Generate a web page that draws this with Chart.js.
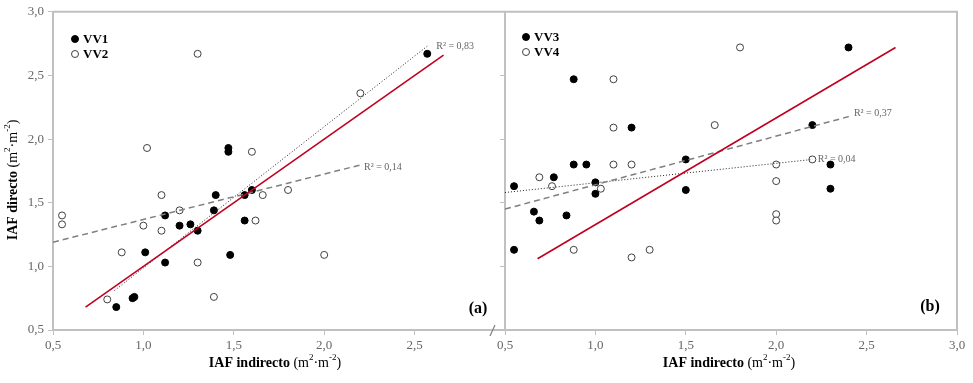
<!DOCTYPE html>
<html>
<head>
<meta charset="utf-8">
<script src="https://cdn.jsdelivr.net/npm/chart.js@4.4.0/dist/chart.umd.min.js"></script>
<style>
  body { margin: 0; background: #fff; }
  #wrap { position: relative; width: 973px; height: 383px; }
  .panel { position: absolute; top: 0; height: 383px; }
  #pa { left: 0; width: 520px; }
  #pb { left: 490px; width: 483px; }
</style>
</head>
<body>
<div id="wrap">
  <div class="panel" id="pa"><canvas id="chartA"></canvas></div>
  <div class="panel" id="pb"><canvas id="chartB"></canvas></div>
</div>
<script>
// Panel (a) values [IAF indirecto, IAF directo]
const vv1 = [[0.85,0.68],[0.94,0.75],[0.95,0.76],[1.01,1.11],[1.12,1.03],[1.12,1.40],[1.20,1.32],[1.26,1.33],
  [1.30,1.28],[1.39,1.44],[1.40,1.56],[1.47,1.90],[1.47,1.93],[1.48,1.09],[1.56,1.36],[1.56,1.56],[1.60,1.60],[2.57,2.67]];
const vv2 = [[0.55,1.40],[0.55,1.33],[0.80,0.74],[0.88,1.11],[1.00,1.32],[1.02,1.93],[1.10,1.28],[1.10,1.56],
  [1.20,1.44],[1.30,1.03],[1.30,2.67],[1.39,0.76],[1.60,1.90],[1.62,1.36],[1.66,1.56],[1.80,1.60],[2.00,1.09],[2.20,2.36]];
// Panel (b)
const vv3 = [[0.55,1.63],[0.55,1.13],[0.66,1.43],[0.69,1.36],[0.77,1.70],[0.84,1.40],[0.88,2.47],[0.88,1.80],
  [0.95,1.80],[1.00,1.66],[1.00,1.57],[1.20,2.09],[1.50,1.84],[1.50,1.60],[2.20,2.11],[2.30,1.80],[2.30,1.61],[2.40,2.72]];
const vv4 = [[0.69,1.70],[0.76,1.63],[0.88,1.13],[1.03,1.61],[1.10,2.47],[1.10,2.09],[1.10,1.80],[1.20,1.80],
  [1.20,1.07],[1.30,1.13],[1.66,2.11],[1.80,2.72],[2.00,1.80],[2.00,1.67],[2.00,1.41],[2.00,1.36],[2.20,1.84]];

// line end points
const refLineA = [[0.68,0.68],[2.66,2.66]];
const trendVV1 = [[0.84,0.81],[2.57,2.73]];
const trendVV2 = [[0.50,1.19],[2.21,1.80]];
const refLineB = [[0.68,1.06],[2.66,2.72]];
const trendVV3 = [[0.50,1.45],[2.41,2.18]];
const trendVV4 = [[0.50,1.58],[2.20,1.84]];

const xTicks = [0.5, 1.0, 1.5, 2.0, 2.5, 3.0];
const yTicks = [0.5, 1.0, 1.5, 2.0, 2.5, 3.0];
const r2A = ['R² = 0,83', 'R² = 0,14'];
const r2B = ['R² = 0,37', 'R² = 0,04'];

const SERIF = "'Liberation Serif', 'Times New Roman', serif";
const AXIS = '#c0c0c0';
const TXT = '#666666';

const pts = arr => arr.map(p => ({ x: p[0], y: p[1] }));
const fmt = v => v.toFixed(1).replace('.', ',');

function filledSet(d) {
  return { data: pts(d), pointRadius: 3.5, backgroundColor: '#000', borderColor: '#000', borderWidth: 1, order: 2 };
}
function openSet(d) {
  return { data: pts(d), pointRadius: 3.5, backgroundColor: '#fff', borderColor: '#404040', borderWidth: 1, order: 2 };
}
function lineSet(d, color, width, dash) {
  return { data: pts(d), showLine: true, pointRadius: 0, borderColor: color, borderWidth: width, borderDash: dash, fill: false, order: 1 };
}

// draws a sequence of text pieces with mixed fonts (bold / superscript)
function drawRuns(ctx, runs, cx, cy) {
  let total = 0;
  runs.forEach(r => {
    ctx.font = (r.bold ? 'bold ' : '') + r.size + 'px ' + SERIF;
    r.w = ctx.measureText(r.t).width;
    total += r.w;
  });
  let x = cx - total / 2;
  ctx.textAlign = 'left';
  ctx.textBaseline = 'middle';
  runs.forEach(r => {
    ctx.font = (r.bold ? 'bold ' : '') + r.size + 'px ' + SERIF;
    ctx.fillText(r.t, x, cy + (r.dy || 0));
    x += r.w;
  });
}
function titleRuns(label) {
  const s = 14, ss = 9;
  return [
    { t: label + ' ', bold: true, size: s },
    { t: '(m', size: s }, { t: '2', size: ss, dy: -5 },
    { t: '·m', size: s }, { t: '-2', size: ss, dy: -5 },
    { t: ')', size: s }
  ];
}
function legend(ctx, x, y, name, filled) {
  ctx.beginPath();
  ctx.arc(x, y, 3.5, 0, Math.PI * 2);
  ctx.fillStyle = filled ? '#000' : '#fff';
  ctx.fill();
  ctx.strokeStyle = filled ? '#000' : '#404040';
  ctx.lineWidth = 1;
  ctx.stroke();
  ctx.fillStyle = '#000';
  ctx.font = 'bold 13px ' + SERIF;
  ctx.textAlign = 'left';
  ctx.textBaseline = 'middle';
  ctx.fillText(name, x + 8, y + 1);
}
function r2Label(ctx, sx, sy, x, y, text) {
  ctx.fillStyle = TXT;
  ctx.font = '10px ' + SERIF;
  ctx.textAlign = 'left';
  ctx.textBaseline = 'middle';
  ctx.fillText(text, sx.getPixelForValue(x), sy.getPixelForValue(y));
}

const decorA = {
  id: 'decorA',
  afterDraw(chart) {
    const { ctx, chartArea: a, scales } = chart;
    ctx.save();
    ctx.strokeStyle = AXIS; ctx.lineWidth = 2;
    ctx.beginPath(); ctx.moveTo(a.left, a.top); ctx.lineTo(a.right, a.top); ctx.stroke();
    // axis break mark
    ctx.strokeStyle = '#808080'; ctx.lineWidth = 1.2;
    ctx.beginPath(); ctx.moveTo(a.right - 15, a.bottom + 6); ctx.lineTo(a.right - 10, a.bottom - 5); ctx.stroke();
    ctx.fillStyle = '#000';
    ctx.save();
    ctx.translate(13, 180); ctx.rotate(-Math.PI / 2);
    drawRuns(ctx, titleRuns('IAF directo'), 0, 0);
    ctx.restore();
    drawRuns(ctx, titleRuns('IAF indirecto'), 275, 363);
    legend(ctx, 75, 39, 'VV1', true);
    legend(ctx, 75, 54, 'VV2', false);
    r2Label(ctx, scales.x, scales.y, 2.62, 2.73, r2A[0]);
    r2Label(ctx, scales.x, scales.y, 2.22, 1.78, r2A[1]);
    ctx.fillStyle = '#000';
    ctx.font = 'bold 16px ' + SERIF;
    ctx.textAlign = 'center'; ctx.textBaseline = 'middle';
    ctx.fillText('(a)', 478, 309);
    ctx.restore();
  }
};
const decorB = {
  id: 'decorB',
  afterDraw(chart) {
    const { ctx, chartArea: a, scales } = chart;
    ctx.save();
    ctx.strokeStyle = AXIS; ctx.lineWidth = 2;
    ctx.beginPath(); ctx.moveTo(a.left, a.top); ctx.lineTo(a.right, a.top); ctx.lineTo(a.right, a.bottom); ctx.stroke();
    ctx.fillStyle = '#000';
    drawRuns(ctx, titleRuns('IAF indirecto'), 729 - 490, 363);
    legend(ctx, 36, 37, 'VV3', true);
    legend(ctx, 36, 52, 'VV4', false);
    r2Label(ctx, scales.x, scales.y, 2.43, 2.20, r2B[0]);
    r2Label(ctx, scales.x, scales.y, 2.23, 1.84, r2B[1]);
    ctx.fillStyle = '#000';
    ctx.font = 'bold 16px ' + SERIF;
    ctx.textAlign = 'center'; ctx.textBaseline = 'middle';
    ctx.fillText('(b)', 930 - 490, 307);
    ctx.restore();
  }
};

function options(yWidth, rightPad, hideLastX, showYLabels) {
  return {
    responsive: true,
    maintainAspectRatio: false,
    animation: false,
    events: [],
    layout: { padding: { top: 10, right: rightPad, left: 0, bottom: 0 } },
    plugins: { legend: { display: false }, tooltip: { enabled: false } },
    scales: {
      x: {
        type: 'linear', min: 0.5, max: 3.0,
        afterBuildTicks: s => { s.ticks = xTicks.map(v => ({ value: v })); },
        afterFit: s => { s.height = 53; },
        border: { color: AXIS, width: 2 },
        grid: { drawOnChartArea: false, drawTicks: true, tickLength: 5, color: AXIS },
        ticks: {
          color: TXT, font: { family: SERIF, size: 13 }, padding: 3, maxRotation: 0,
          callback: v => (hideLastX && v === 3.0) ? '' : fmt(v)
        }
      },
      y: {
        type: 'linear', min: 0.5, max: 3.0,
        afterBuildTicks: s => { s.ticks = yTicks.map(v => ({ value: v })); },
        afterFit: s => { s.width = yWidth; },
        border: { color: AXIS, width: 2 },
        grid: { drawOnChartArea: false, drawTicks: true, tickLength: 5, color: AXIS },
        ticks: {
          color: TXT, font: { family: SERIF, size: 13 }, padding: 4,
          callback: v => showYLabels ? fmt(v) : ''
        }
      }
    }
  };
}

new Chart(document.getElementById('chartA'), {
  type: 'scatter',
  data: {
    datasets: [
      lineSet(refLineA, '#c00020', 1.6, []),
      lineSet(trendVV1, '#222', 1, [1, 2]),
      lineSet(trendVV2, '#7f7f7f', 1.5, [6, 4]),
      filledSet(vv1),
      openSet(vv2)
    ]
  },
  options: options(53, 15, true, true),
  plugins: [decorA]
});

new Chart(document.getElementById('chartB'), {
  type: 'scatter',
  data: {
    datasets: [
      lineSet(refLineB, '#c00020', 1.6, []),
      lineSet(trendVV3, '#7f7f7f', 1.5, [6, 4]),
      lineSet(trendVV4, '#222', 1, [1, 2]),
      filledSet(vv3),
      openSet(vv4)
    ]
  },
  options: options(15, 16, false, false),
  plugins: [decorB]
});
</script>
</body>
</html>
